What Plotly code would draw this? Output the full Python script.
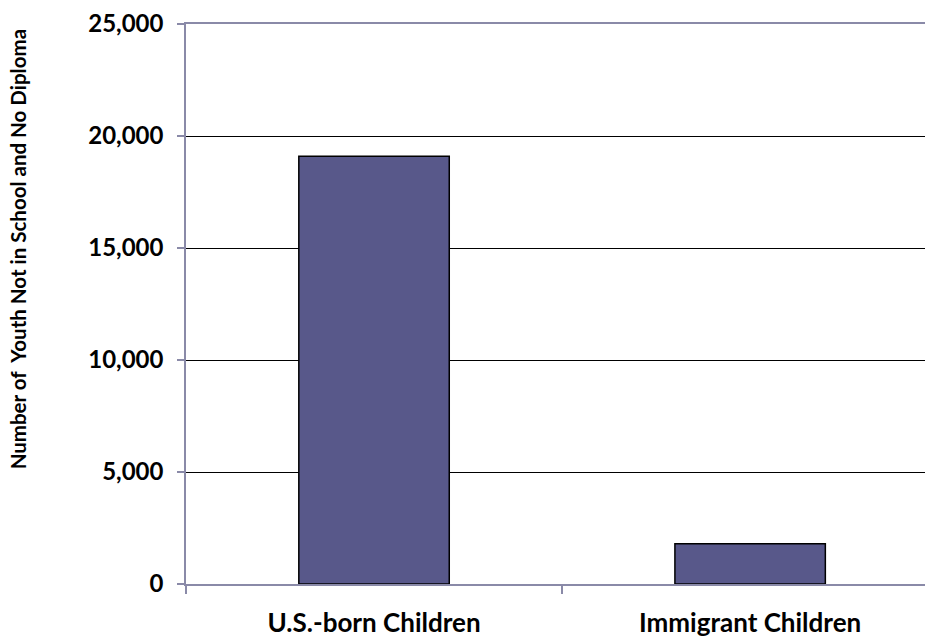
import plotly.graph_objects as go

# Youth who are not in school and have no diploma, by nativity
groups = ["U.S.-born Children", "Immigrant Children"]
youth_counts = [19100, 1800]
y_ticks = [0, 5000, 10000, 15000, 20000, 25000]
y_title = "Number of  Youth Not in School and No Diploma"

positions = list(range(len(groups)))
axis_color = "#8a8aa8"
font_family = "Lato, 'Open Sans', sans-serif"

fig = go.Figure(
    go.Bar(
        x=positions,
        y=youth_counts,
        width=0.40,
        marker=dict(color="#58588a", line=dict(color="#000000", width=1.5)),
        hoverinfo="x+y",
    )
)

fig.update_layout(
    width=925,
    height=637,
    margin=dict(l=186, r=0, t=24, b=53),
    paper_bgcolor="white",
    plot_bgcolor="white",
    showlegend=False,
    font=dict(family=font_family, color="#000000"),
)

fig.update_xaxes(
    range=[-0.5, 1.465],
    tickvals=positions,
    ticktext=groups,
    ticks="",
    ticklabelstandoff=15,
    automargin=False,
    tickfont=dict(size=26, family=font_family, weight="bold"),
    showgrid=False,
    zeroline=False,
    showline=True,
    mirror=True,
    linecolor=axis_color,
    linewidth=1.5,
    minor=dict(tick0=-0.5, dtick=1, ticks="outside", ticklen=8,
               tickcolor=axis_color, tickwidth=1.5, showgrid=False),
)

fig.update_yaxes(
    range=[0, 25000],
    tickvals=y_ticks,
    tickformat=",",
    ticks="outside",
    ticklen=7,
    tickcolor=axis_color,
    tickwidth=1.5,
    ticklabelstandoff=9,
    automargin=False,
    tickfont=dict(size=24, family=font_family, weight="bold"),
    showgrid=True,
    gridcolor="#000000",
    gridwidth=1.3,
    zeroline=False,
    showline=True,
    linecolor=axis_color,
    linewidth=1.5,
)

# Vertical axis title placed in the left margin
fig.add_annotation(
    text=y_title,
    textangle=-90,
    xref="paper", yref="paper",
    x=-0.227, y=0.598,
    xanchor="center", yanchor="middle",
    showarrow=False,
    font=dict(size=20.5, family=font_family, weight="bold", color="#000000"),
)

fig.write_html("out.html")
